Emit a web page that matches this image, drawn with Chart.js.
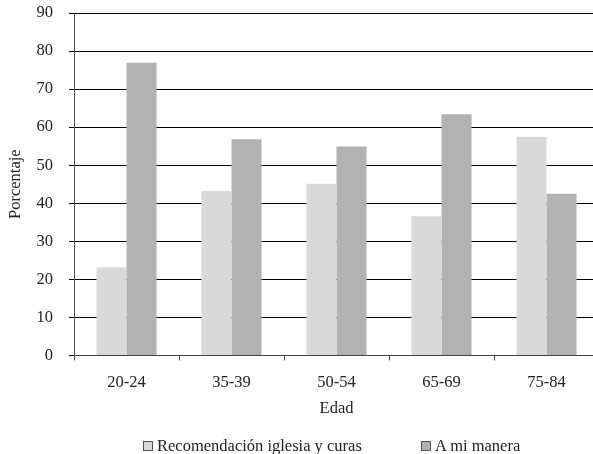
<!DOCTYPE html>
<html>
<head>
<meta charset="utf-8">
<script src="https://cdn.jsdelivr.net/npm/chart.js@4"></script>
<style>
  html, body { margin: 0; padding: 0; background: #fff; overflow: hidden; }
  #wrap { position: relative; width: 600px; height: 454px; }
  #legend {
    position: absolute; left: 0; top: 436px; width: 600px; height: 20px;
    font-family: "Liberation Serif", "DejaVu Serif", serif; font-size: 16.5px;
    color: #222; line-height: 20px;
  }
  #legend .item { position: absolute; top: 0; white-space: nowrap; }
  #legend .box {
    display: inline-block; width: 8px; height: 8px; border: 1px solid #555;
    margin-right: 4px; vertical-align: 0px;
  }
</style>
</head>
<body>
<div id="wrap">
  <canvas id="edadChart"></canvas>
  <div id="legend"></div>
</div>
<script>
const categories = ['20-24', '35-39', '50-54', '65-69', '75-84'];
const seriesNames = ['Recomendación iglesia y curas', 'A mi manera'];
const iglesiaValues = [23.1, 43.2, 45.1, 36.6, 57.5];
const maneraValues = [76.9, 56.8, 54.9, 63.4, 42.5];
const seriesColors = ['#d9d9d9', '#b2b2b2'];

const fontFamily = '"Liberation Serif", "DejaVu Serif", serif';
Chart.defaults.font.family = fontFamily;
Chart.defaults.color = '#222';

new Chart(document.getElementById('edadChart'), {
  type: 'bar',
  data: {
    labels: categories,
    datasets: [
      { label: seriesNames[0], data: iglesiaValues, backgroundColor: seriesColors[0], borderWidth: 0 },
      { label: seriesNames[1], data: maneraValues, backgroundColor: seriesColors[1], borderWidth: 0 }
    ]
  },
  options: {
    responsive: true,
    maintainAspectRatio: false,
    animation: false,
    layout: { padding: { top: 0, right: 1, left: 5.6, bottom: 35 } },
    datasets: {
      bar: { categoryPercentage: 0.572, barPercentage: 1.0 }
    },
    scales: {
      x: {
        grid: {
          display: true,
          drawOnChartArea: false,
          offset: true,
          tickLength: 5,
          color: '#444'
        },
        border: { color: '#444', width: 1 },
        ticks: { font: { size: 16.5 }, padding: 12, color: '#222' },
        title: {
          display: true,
          text: 'Edad',
          font: { size: 16.5 },
          padding: { top: -5, bottom: 0 },
          color: '#222'
        }
      },
      y: {
        min: 0,
        max: 90,
        ticks: { stepSize: 10, font: { size: 16.5 }, padding: 16, color: '#222' },
        grid: { color: '#000', tickLength: 5 },
        border: { color: '#555', width: 1 },
        title: {
          display: true,
          text: 'Porcentaje',
          font: { size: 16.5 },
          padding: { top: 0, bottom: 11 },
          color: '#222'
        },
        afterFit: function(scale) {
          // axis line sits at x=74, top gridline at y=13 in the original
          scale.width = 68.4;
          scale.paddingTop = 13;
        }
      }
    },
    plugins: {
      legend: { display: false },
      tooltip: { enabled: false }
    }
  }
});

// legend below the chart, laid out like the original (two wide columns)
const legendX = [143, 421];
const legendEl = document.getElementById('legend');
seriesNames.forEach(function(name, i) {
  const item = document.createElement('div');
  item.className = 'item';
  item.style.left = legendX[i] + 'px';
  const box = document.createElement('span');
  box.className = 'box';
  box.style.background = seriesColors[i];
  item.appendChild(box);
  item.appendChild(document.createTextNode(name));
  legendEl.appendChild(item);
});
</script>
</body>
</html>
